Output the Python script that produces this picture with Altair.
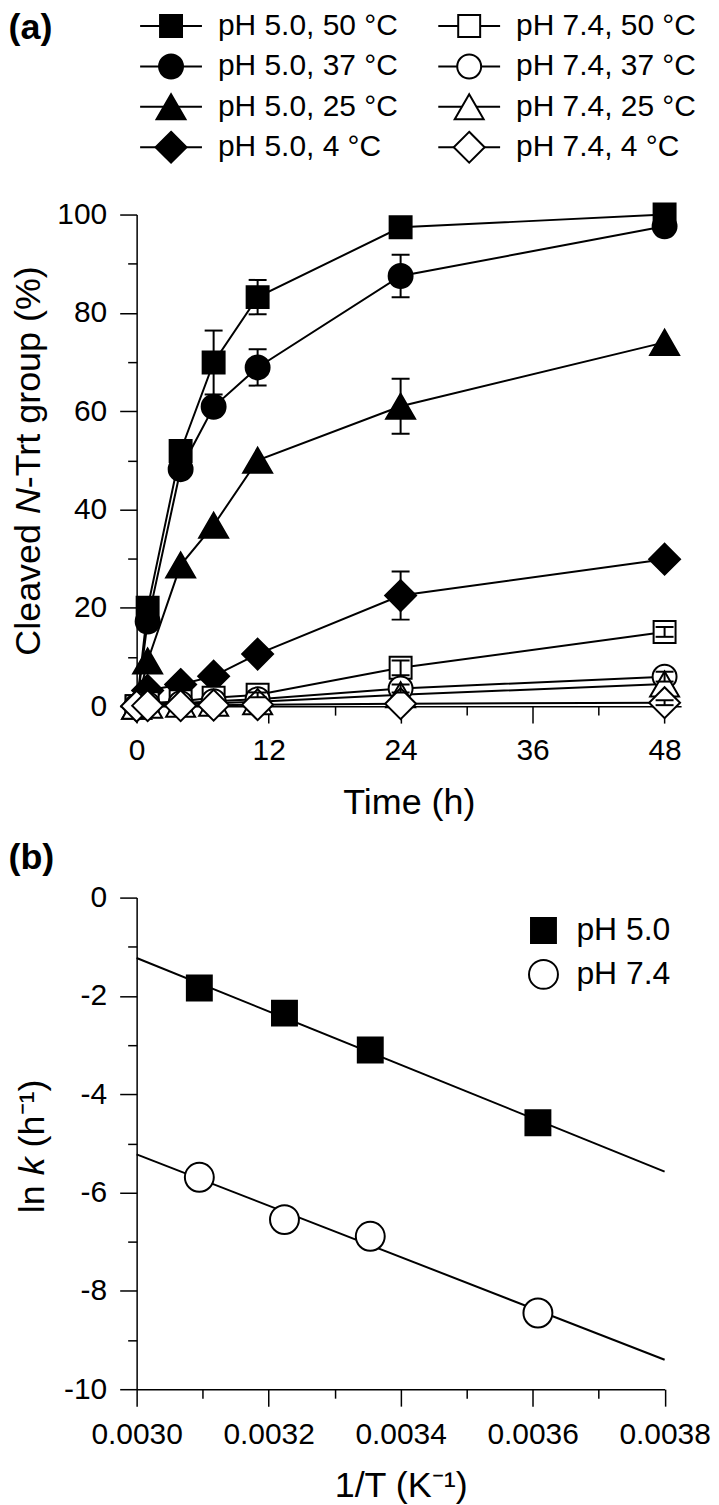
import altair as alt
import pandas as pd

FONT = "Liberation Sans"

# ---------------- panel (a): cleavage kinetics ----------------
times = [0, 1, 4, 7, 11, 24, 48]

series_names = ["pH 5.0, 50 °C", "pH 5.0, 37 °C", "pH 5.0, 25 °C", "pH 5.0, 4 °C",
                "pH 7.4, 50 °C", "pH 7.4, 37 °C", "pH 7.4, 25 °C", "pH 7.4, 4 °C"]
legend_col = [0, 0, 0, 0, 1, 1, 1, 1]
legend_row = [0, 1, 2, 3, 0, 1, 2, 3]

ph50_50c = [0, 20.0, 51.9, 69.9, 83.2, 97.4, 100.0]
ph50_37c = [0, 17.2, 48.2, 60.9, 68.9, 87.5, 97.6]
ph50_25c = [0, 9.2, 28.7, 36.8, 50.0, 61.0, 74.0]
ph50_4c = [0, 3.2, 4.4, 6.1, 10.6, 22.5, 29.9]
ph74_50c = [0, 0.6, 1.0, 1.7, 2.3, 7.8, 15.1]
ph74_37c = [0, 0.4, 0.6, 1.0, 1.4, 3.6, 6.0]
ph74_25c = [0, 0.2, 0.4, 0.6, 0.9, 2.3, 4.5]
ph74_4c = [0, 0.1, 0.1, 0.2, 0.3, 0.5, 0.7]

err50_50c = [0, 0, 0, 6.5, 3.5, 0, 0]
err50_37c = [0, 0, 0, 0, 3.7, 4.3, 0]
err50_25c = [0, 0, 0, 0, 0, 5.6, 0]
err50_4c = [0, 0, 0, 0, 0, 4.9, 0]
err74_50c = [0, 0, 0, 0, 0.5, 1.5, 1.0]
err74_37c = [0, 0, 0, 0, 0, 0.8, 1.0]
err74_25c = [0, 0, 0, 0, 0, 0, 0]
err74_4c = [0, 0, 0, 0, 0, 0, 0.5]

series_values = [ph50_50c, ph50_37c, ph50_25c, ph50_4c, ph74_50c, ph74_37c, ph74_25c, ph74_4c]
series_errors = [err50_50c, err50_37c, err50_25c, err50_4c, err74_50c, err74_37c, err74_25c, err74_4c]

# ---------------- panel (b): Arrhenius plot ----------------
inv_T = [0.003095, 0.003224, 0.003354, 0.003608]
lnk_ph50 = [-1.84, -2.35, -3.10, -4.58]
lnk_ph74 = [-5.69, -6.55, -6.89, -8.45]
ph_labels = ["pH 5.0", "pH 7.4"]

# ---------------- marker shapes (unit-box SVG paths) ----------------
SQ_A = "M-0.667,-0.667H0.667V0.667H-0.667Z"
CI_A = "M-0.727,0A0.727,0.727,0,1,1,0.727,0A0.727,0.727,0,1,1,-0.727,0Z"
TR_A = "M0,-0.761L0.879,0.761L-0.879,0.761Z"
DI_A = "M0,-0.939L0.939,0L0,0.939L-0.939,0Z"
series_shapes = [SQ_A, CI_A, TR_A, DI_A, SQ_A, CI_A, TR_A, DI_A]
series_fills = ["black"] * 4 + ["white"] * 4
SIZE_A = 1089

SQ_B = "M-0.833,-0.833H0.833V0.833H-0.833Z"
CI_B = "M-0.967,0A0.967,0.967,0,1,1,0.967,0A0.967,0.967,0,1,1,-0.967,0Z"
SIZE_B = 900

W_A, W_B, H = 546, 529.5, 493
GAP = 192

# ---------------- data tables ----------------
rows = []
for name, vals, errs in zip(series_names, series_values, series_errors):
    for t, v, e in zip(times, vals, errs):
        rows.append({"series": name, "time": t, "value": v, "err": e,
                     "lower": v - e, "upper": v + e})
df_a = pd.DataFrame(rows)

legend_df = pd.DataFrame({"series": series_names, "col": legend_col, "row": legend_row})

rows_b = []
for ph, vals in zip(ph_labels, [lnk_ph50, lnk_ph74]):
    for x, v in zip(inv_T, vals):
        rows_b.append({"pH": ph, "invT": x, "lnk": v})
df_b = pd.DataFrame(rows_b)

shape_a = alt.Scale(domain=series_names, range=series_shapes)
fill_a = alt.Scale(domain=series_names, range=series_fills)


def text_piece(text, x, y, align="left", angle=0, size=36, style="normal", weight="normal"):
    props = dict(align=align, baseline="middle", fontSize=size, font=FONT,
                 fontStyle=style, fontWeight=weight, color="black")
    if angle:
        props["angle"] = angle
    return alt.Chart(pd.DataFrame({"t": [text]})).mark_text(**props).encode(
        text="t:N", x=alt.value(x), y=alt.value(y))


# ---------------- legend of panel (a) ----------------
lx = alt.X("col:O", scale=alt.Scale(type="point", domain=[0, 1], range=[34.5, 333.5], padding=0), axis=None)
ly = alt.Y("row:O", scale=alt.Scale(type="point", domain=[0, 1, 2, 3], range=[15, 136.5], padding=0), axis=None)
leg_base = alt.Chart(legend_df)
leg_lines = leg_base.mark_tick(orient="horizontal", size=62, thickness=2, color="black", opacity=1).encode(x=lx, y=ly)
leg_pts = leg_base.mark_point(filled=True, size=SIZE_A, stroke="black", strokeWidth=2, opacity=1).encode(
    x=lx, y=ly,
    shape=alt.Shape("series:N", scale=shape_a, legend=None),
    fill=alt.Fill("series:N", scale=fill_a, legend=None))
leg_text = leg_base.mark_text(align="left", baseline="middle", dx=47, fontSize=30, font=FONT, color="black").encode(
    x=lx, y=ly, text="series:N")
label_a = text_piece("(a)", -128.5, 17, weight="bold")
# the legend cell is laid out flush with a small nominal height; its marks extend into the gap below
legend_chart = alt.layer(leg_lines, leg_pts, leg_text, label_a).properties(width=W_A, height=12)

# ---------------- panel (a) ----------------
xa = alt.Scale(domain=[0, 49.5], nice=False, zero=False)
ya = alt.Scale(domain=[0, 100], nice=False, zero=False)
ax_x_major = alt.Axis(orient="bottom", values=[0, 12, 24, 36, 48], format="d", title="Time (h)",
                      tickSize=17, labelPadding=13, titlePadding=20)
ax_x_minor = alt.Axis(orient="bottom", values=[6, 18, 30, 42], labels=False, domain=False, tickSize=9, title=None)
ax_y_major = alt.Axis(orient="left", values=[0, 20, 40, 60, 80, 100], format="d", title=None,
                      tickSize=17, labelPadding=13)
ax_y_minor = alt.Axis(orient="left", values=[10, 30, 50, 70, 90], labels=False, domain=False, tickSize=9, title=None)

base_a = alt.Chart(df_a)
lines_a = base_a.mark_line(color="black", strokeWidth=2).encode(
    x=alt.X("time:Q", scale=xa, axis=ax_x_major),
    y=alt.Y("value:Q", scale=ya, axis=ax_y_major),
    detail="series:N")
points_a = base_a.mark_point(filled=True, size=SIZE_A, stroke="black", strokeWidth=2, opacity=1).encode(
    x=alt.X("time:Q", scale=xa, axis=ax_x_minor),
    y=alt.Y("value:Q", scale=ya, axis=ax_y_minor),
    shape=alt.Shape("series:N", scale=shape_a, legend=None),
    fill=alt.Fill("series:N", scale=fill_a, legend=None))
err_a = base_a.transform_filter("datum.err > 0")
bars_a = err_a.mark_rule(color="black", strokeWidth=2).encode(
    x=alt.X("time:Q", scale=xa, axis=None),
    y=alt.Y("lower:Q", scale=ya, axis=None), y2="upper:Q")
caps_lo = err_a.mark_tick(orient="horizontal", size=18, thickness=2, color="black", opacity=1).encode(
    x=alt.X("time:Q", scale=xa, axis=None), y=alt.Y("lower:Q", scale=ya, axis=None))
caps_hi = err_a.mark_tick(orient="horizontal", size=18, thickness=2, color="black", opacity=1).encode(
    x=alt.X("time:Q", scale=xa, axis=None), y=alt.Y("upper:Q", scale=ya, axis=None))

# y title "Cleaved N-Trt group (%)" with an italic N, written bottom-to-top
TX_A = -107.5
ttl_a1 = text_piece("Cleaved", TX_A, 310.4, align="right", angle=270)
ttl_a2 = text_piece("N", TX_A, 287.4, align="center", angle=270, style="italic")
ttl_a3 = text_piece("-Trt group (%)", TX_A, 274.4, align="left", angle=270)

panel_a = alt.layer(lines_a, points_a, bars_a, caps_lo, caps_hi, ttl_a1, ttl_a2, ttl_a3).resolve_axis(
    x="independent", y="independent").properties(width=W_A, height=H)

# ---------------- panel (b) ----------------
xb = alt.Scale(domain=[0.003, 0.0038], nice=False, zero=False)
yb = alt.Scale(domain=[-10, 0], nice=False, zero=False)
shape_b = alt.Scale(domain=ph_labels, range=[SQ_B, CI_B])
fill_b = alt.Scale(domain=ph_labels, range=["black", "white"])
stroke_b = alt.Scale(domain=ph_labels, range=["black", "black"])
ax_xb_major = alt.Axis(orient="bottom", values=[0.003, 0.0032, 0.0034, 0.0036, 0.0038], format=".4f",
                       title="1/T (K\u207b\u00b9)", tickSize=17, labelPadding=13, titlePadding=20)
ax_xb_minor = alt.Axis(orient="bottom", values=[0.0031, 0.0033, 0.0035, 0.0037], labels=False, domain=False,
                       tickSize=9, title=None)
ax_yb_major = alt.Axis(orient="left", values=[0, -2, -4, -6, -8, -10], format="d", title=None,
                       labelExpr="replace(datum.label, '\u2212', '-')", tickSize=17, labelPadding=13)
ax_yb_minor = alt.Axis(orient="left", values=[-1, -3, -5, -7, -9], labels=False, domain=False, tickSize=9, title=None)

leg_b = alt.Legend(title=None, orient="none", legendX=392, legendY=17, labelFontSize=32, labelFont=FONT,
                   labelColor="black", symbolSize=SIZE_B, symbolStrokeWidth=2, symbolStrokeColor="black",
                   labelOffset=17, rowPadding=8, padding=0)

fit_b = alt.Chart(df_b).transform_regression("invT", "lnk", groupby=["pH"], extent=[0.003, 0.0038]).mark_line(
    color="black", strokeWidth=2).encode(
    x=alt.X("invT:Q", scale=xb, axis=ax_xb_major),
    y=alt.Y("lnk:Q", scale=yb, axis=ax_yb_major),
    detail="pH:N")
points_b = alt.Chart(df_b).mark_point(filled=True, size=SIZE_B, strokeWidth=2, opacity=1).encode(
    x=alt.X("invT:Q", scale=xb, axis=ax_xb_minor),
    y=alt.Y("lnk:Q", scale=yb, axis=ax_yb_minor),
    shape=alt.Shape("pH:N", scale=shape_b, legend=leg_b),
    fill=alt.Fill("pH:N", scale=fill_b, legend=leg_b),
    stroke=alt.Stroke("pH:N", scale=stroke_b, legend=leg_b))
label_b = text_piece("(b)", -128.5, -40, weight="bold")
# y title "ln k (h-1)" with an italic k
TX_B = -103.5
ttl_b1 = text_piece("ln", TX_B, 288.5, align="right", angle=270)
ttl_b2 = text_piece("k", TX_B, 269.5, align="center", angle=270, style="italic")
ttl_b3 = text_piece("(h\u207b\u00b9)", TX_B, 250.5, align="left", angle=270)

panel_b = alt.layer(fit_b, points_b, label_b, ttl_b1, ttl_b2, ttl_b3).resolve_axis(
    x="independent", y="independent").properties(width=W_B, height=H)

chart = alt.vconcat(legend_chart, panel_a, panel_b, spacing=GAP, bounds="flush").resolve_scale(
    shape="independent", fill="independent", stroke="independent").resolve_legend(
    shape="independent", fill="independent", stroke="independent").properties(
    padding=0).configure(font=FONT).configure_view(stroke=None).configure_axis(
    labelFont=FONT, titleFont=FONT, labelFontSize=30, titleFontSize=36, titleFontWeight="normal",
    labelColor="black", titleColor="black", domainColor="black", tickColor="black",
    domainWidth=1.5, tickWidth=1.5, grid=False, labelFlush=False, labelOverlap=False)

chart.save("out.html", embed_options={"renderer": "svg", "actions": False})
